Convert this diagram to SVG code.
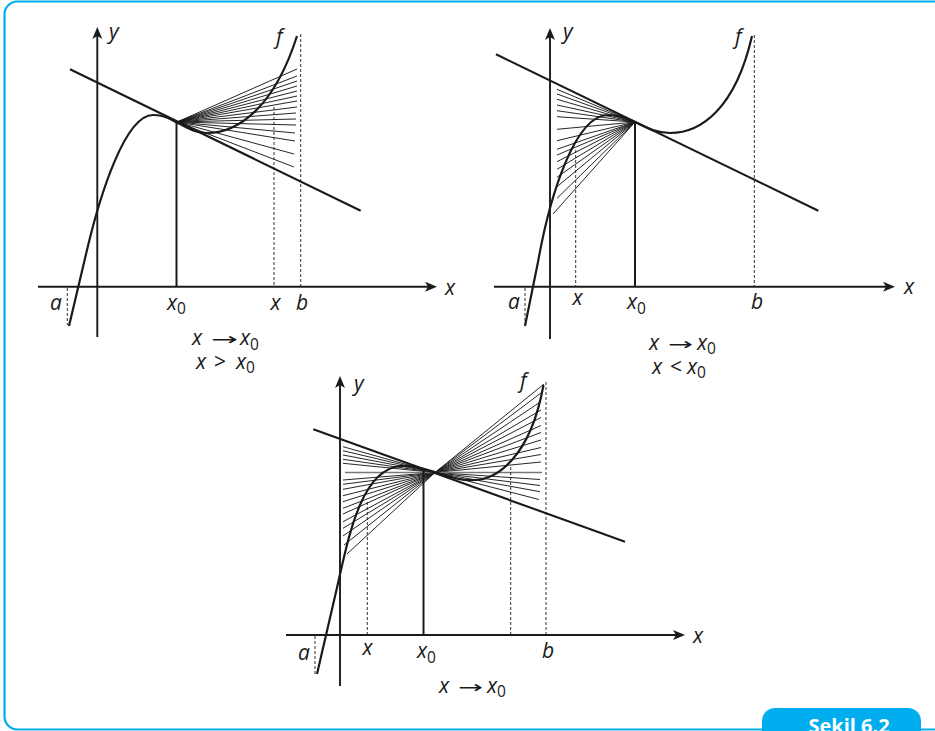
<svg xmlns="http://www.w3.org/2000/svg" width="935" height="731" viewBox="0 0 935 731">
<defs>
<marker id="arr" markerUnits="userSpaceOnUse" markerWidth="14" markerHeight="12" refX="6" refY="5" orient="auto">
<path d="M0,0 L12,5 L0,10 L3,5 Z" fill="#1a1a1a"/>
</marker>
<style>
.frame{fill:#fff;stroke:#00AEEF;stroke-width:2.2}
.axis{stroke:#1a1a1a;stroke-width:1.9;fill:none}
.curve{stroke:#1a1a1a;stroke-width:2.2;fill:none}
.tan{stroke:#1a1a1a;stroke-width:2.1}
.x0l{stroke:#1a1a1a;stroke-width:2}
.sec{stroke:#1a1a1a;stroke-width:0.95}
.hsec{stroke:#777;stroke-width:1.4}
.dash{stroke:#1a1a1a;stroke-width:0.9;stroke-dasharray:3 2;fill:none}
.lab{font-family:"Open Sans","Noto Sans",sans-serif;font-style:italic;font-size:21px;fill:#1a1a1a}
.sub{font-style:normal;font-size:15.5px}
.op{font-family:"DejaVu Sans","Open Sans",sans-serif;font-style:normal;font-size:17px;fill:#1a1a1a}
.rel{font-family:"Open Sans","Noto Sans",sans-serif;font-style:normal;font-size:21px;fill:#1a1a1a}
.tab{fill:#00AEEF}
.tabt{font-family:"Open Sans","Noto Sans",sans-serif;font-weight:bold;font-size:20px;fill:#fff}
</style>
</defs>

<rect class="frame" x="4.5" y="1.5" width="945" height="728" rx="13"/>

<!-- Top-left panel -->
<g id="panel-left">
  <g id="tl-secants">
    <line class="sec" x1="177" y1="122" x2="297" y2="69"/>
    <line class="sec" x1="177" y1="122" x2="297" y2="76"/>
    <line class="sec" x1="177" y1="122" x2="297" y2="81"/>
    <line class="sec" x1="177" y1="122" x2="297" y2="86"/>
    <line class="sec" x1="177" y1="122" x2="297" y2="91"/>
    <line class="sec" x1="177" y1="122" x2="297" y2="96"/>
    <line class="sec" x1="177" y1="122" x2="297" y2="101"/>
    <line class="sec" x1="177" y1="122" x2="297" y2="107"/>
    <line class="sec" x1="177" y1="122" x2="296" y2="113"/>
    <line class="sec" x1="177" y1="122" x2="296" y2="119"/>
    <line class="sec" x1="177" y1="122" x2="296" y2="125"/>
    <line class="sec" x1="177" y1="122" x2="295" y2="133"/>
    <line class="sec" x1="177" y1="122" x2="295" y2="141"/>
    <line class="sec" x1="177" y1="122" x2="294" y2="154"/>
    <line class="sec" x1="177" y1="122" x2="294" y2="167"/>
  </g>
  <line class="dash" x1="274" y1="107" x2="274" y2="286"/>
  <line class="dash" x1="300.7" y1="34" x2="300.7" y2="286"/>
  <line class="dash" x1="67.3" y1="288" x2="67.3" y2="325"/>
  <line class="axis" x1="38" y1="286.7" x2="431" y2="286.7" marker-end="url(#arr)"/>
  <line class="axis" x1="97.3" y1="337" x2="97.3" y2="33" marker-end="url(#arr)"/>
  <line class="tan" x1="70" y1="69.3" x2="360.7" y2="210.7"/>
  <line class="x0l" x1="176.5" y1="286.7" x2="176.5" y2="121.5"/>
  <path class="curve" d="M69,326 L87,250 C100,195 125,115 153,115 C165,115 170,119 176,122 C190,129 195,133 207,133 C240,133 275,105 297,36"/>
  <text class="lab" x="109" y="38.5">y</text>
  <text class="lab" x="276" y="44">f</text>
  <text class="lab" x="445" y="295">x</text>
  <text class="lab" x="50" y="309.5">a</text>
  <text class="lab" x="167" y="309.5">x<tspan class="sub" dy="4.5">0</tspan></text>
  <text class="lab" x="270.5" y="309.5">x</text>
  <text class="lab" x="296" y="310">b</text>
  <text class="lab" x="192" y="345">x</text>
  <text class="op" x="211" y="345" textLength="27" lengthAdjust="spacingAndGlyphs">→</text>
  <text class="lab" x="240" y="345">x<tspan class="sub" dy="4.5">0</tspan></text>
  <text class="lab" x="196" y="368.5">x</text>
  <text class="rel" x="214" y="368.5">&gt;</text>
  <text class="lab" x="236" y="368.5">x<tspan class="sub" dy="4.5">0</tspan></text>
</g>

<!-- Top-right panel -->
<g id="panel-right">
  <g id="tr-secants">
    <line class="sec" x1="635" y1="122" x2="557" y2="89.3"/>
    <line class="sec" x1="635" y1="122" x2="557" y2="94"/>
    <line class="sec" x1="635" y1="122" x2="557" y2="99.3"/>
    <line class="sec" x1="635" y1="122" x2="557" y2="105"/>
    <line class="sec" x1="635" y1="122" x2="557" y2="110.7"/>
    <line class="sec" x1="635" y1="122" x2="557" y2="116.7"/>
    <line class="sec" x1="635" y1="122" x2="557" y2="129.3"/>
    <line class="sec" x1="635" y1="122" x2="557" y2="140.7"/>
    <line class="sec" x1="635" y1="122" x2="557" y2="149.3"/>
    <line class="sec" x1="635" y1="122" x2="557" y2="155"/>
    <line class="sec" x1="635" y1="122" x2="557" y2="161.7"/>
    <line class="sec" x1="635" y1="122" x2="557" y2="169.3"/>
    <line class="sec" x1="635" y1="122" x2="557" y2="177.3"/>
    <line class="sec" x1="635" y1="122" x2="557" y2="186.7"/>
    <line class="sec" x1="635" y1="122" x2="557" y2="198.3"/>
    <line class="sec" x1="635" y1="122" x2="553" y2="214"/>
  </g>
  <line class="dash" x1="575.7" y1="150" x2="575.7" y2="286"/>
  <line class="dash" x1="754.3" y1="35" x2="754.3" y2="286"/>
  <line class="dash" x1="525" y1="288" x2="525" y2="325"/>
  <line class="axis" x1="494" y1="286.7" x2="889" y2="286.7" marker-end="url(#arr)"/>
  <line class="axis" x1="550" y1="339" x2="550" y2="34" marker-end="url(#arr)"/>
  <line class="tan" x1="496" y1="54.3" x2="818.3" y2="210.7"/>
  <line class="x0l" x1="635" y1="286.7" x2="635" y2="121.5"/>
  <path class="curve" d="M525,326 L538,262 C550,195 575,115 608,115 C620,115 628,118.5 635,122 C649,129 657,133 670,133 C700,133 735,110 752,36"/>
  <text class="lab" x="563" y="39">y</text>
  <text class="lab" x="735" y="44">f</text>
  <text class="lab" x="904" y="294">x</text>
  <text class="lab" x="508" y="309">a</text>
  <text class="lab" x="572.5" y="305">x</text>
  <text class="lab" x="627" y="309">x<tspan class="sub" dy="4.5">0</tspan></text>
  <text class="lab" x="751" y="309">b</text>
  <text class="lab" x="649" y="349.5">x</text>
  <text class="op" x="668" y="349.5" textLength="25" lengthAdjust="spacingAndGlyphs">→</text>
  <text class="lab" x="697" y="349.5">x<tspan class="sub" dy="4">0</tspan></text>
  <text class="lab" x="652" y="373.5">x</text>
  <text class="rel" x="670" y="373.5">&lt;</text>
  <text class="lab" x="687" y="373.5">x<tspan class="sub" dy="4.5">0</tspan></text>
</g>

<!-- Bottom panel -->
<g id="panel-bottom">
  <g id="b-secants">
    <line class="sec" x1="435" y1="472.5" x2="343" y2="446.7"/>
    <line class="sec" x1="435" y1="472.5" x2="343" y2="450.7"/>
    <line class="sec" x1="435" y1="472.5" x2="343" y2="455"/>
    <line class="sec" x1="435" y1="472.5" x2="343" y2="459.3"/>
    <line class="sec" x1="435" y1="472.5" x2="343" y2="463.3"/>
    <line class="sec" x1="435" y1="472.5" x2="343" y2="480"/>
    <line class="sec" x1="435" y1="472.5" x2="343" y2="484.3"/>
    <line class="sec" x1="435" y1="472.5" x2="343" y2="489.3"/>
    <line class="sec" x1="435" y1="472.5" x2="343" y2="495.7"/>
    <line class="sec" x1="435" y1="472.5" x2="343" y2="501.7"/>
    <line class="sec" x1="435" y1="472.5" x2="343" y2="508.3"/>
    <line class="sec" x1="435" y1="472.5" x2="343" y2="514"/>
    <line class="sec" x1="435" y1="472.5" x2="343" y2="521.7"/>
    <line class="sec" x1="435" y1="472.5" x2="343" y2="528.3"/>
    <line class="sec" x1="435" y1="472.5" x2="343" y2="536"/>
    <line class="sec" x1="435" y1="472.5" x2="344" y2="545"/>
    <line class="sec" x1="435" y1="472.5" x2="347" y2="554"/>
    <line class="sec" x1="435" y1="472.5" x2="544" y2="384"/>
    <line class="sec" x1="435" y1="472.5" x2="541" y2="393"/>
    <line class="sec" x1="435" y1="472.5" x2="541" y2="401.5"/>
    <line class="sec" x1="435" y1="472.5" x2="541" y2="410"/>
    <line class="sec" x1="435" y1="472.5" x2="541" y2="417.5"/>
    <line class="sec" x1="435" y1="472.5" x2="541" y2="425.5"/>
    <line class="sec" x1="435" y1="472.5" x2="541" y2="432.5"/>
    <line class="sec" x1="435" y1="472.5" x2="541" y2="440"/>
    <line class="sec" x1="435" y1="472.5" x2="541" y2="447.5"/>
    <line class="sec" x1="435" y1="472.5" x2="541" y2="454.5"/>
    <line class="sec" x1="435" y1="472.5" x2="541" y2="462"/>
    <line class="sec" x1="435" y1="472.5" x2="540" y2="479.5"/>
    <line class="sec" x1="435" y1="472.5" x2="540" y2="485.5"/>
    <line class="sec" x1="435" y1="472.5" x2="540" y2="491.7"/>
    <line class="sec" x1="435" y1="472.5" x2="539" y2="499.5"/>
    <line class="hsec" x1="345" y1="472.5" x2="542" y2="472.5"/>
  </g>
  <line class="dash" x1="367.3" y1="502" x2="367.3" y2="634"/>
  <line class="dash" x1="510.7" y1="467" x2="510.7" y2="634"/>
  <line class="dash" x1="546" y1="382" x2="546" y2="634"/>
  <line class="dash" x1="315" y1="636" x2="315" y2="674"/>
  <line class="axis" x1="286" y1="635" x2="679" y2="635" marker-end="url(#arr)"/>
  <line class="axis" x1="340" y1="686" x2="340" y2="382" marker-end="url(#arr)"/>
  <line class="tan" x1="313.3" y1="429.3" x2="625" y2="541.7"/>
  <line class="x0l" x1="423.5" y1="635" x2="423.5" y2="470"/>
  <path class="curve" d="M317,674 L336,592 C348,540 360,470 400,466 C412,464.8 425,469 435,472 C450,476.5 460,481 475,480 C495,479 530,460 543.5,385"/>
  <text class="lab" x="354" y="391">y</text>
  <text class="lab" x="520" y="388">f</text>
  <text class="lab" x="693" y="643">x</text>
  <text class="lab" x="298" y="660">a</text>
  <text class="lab" x="362.5" y="655">x</text>
  <text class="lab" x="417" y="658">x<tspan class="sub" dy="4.5">0</tspan></text>
  <text class="lab" x="542" y="658">b</text>
  <text class="lab" x="439" y="692.5">x</text>
  <text class="op" x="458" y="692.5" textLength="25" lengthAdjust="spacingAndGlyphs">→</text>
  <text class="lab" x="487" y="692.5">x<tspan class="sub" dy="4.5">0</tspan></text>
</g>

<g id="caption">
  <rect class="tab" x="762" y="708" width="159" height="40" rx="13"/>
  <text class="tabt" x="849" y="732.5" text-anchor="middle">Şekil 6.2</text>
</g>
</svg>
